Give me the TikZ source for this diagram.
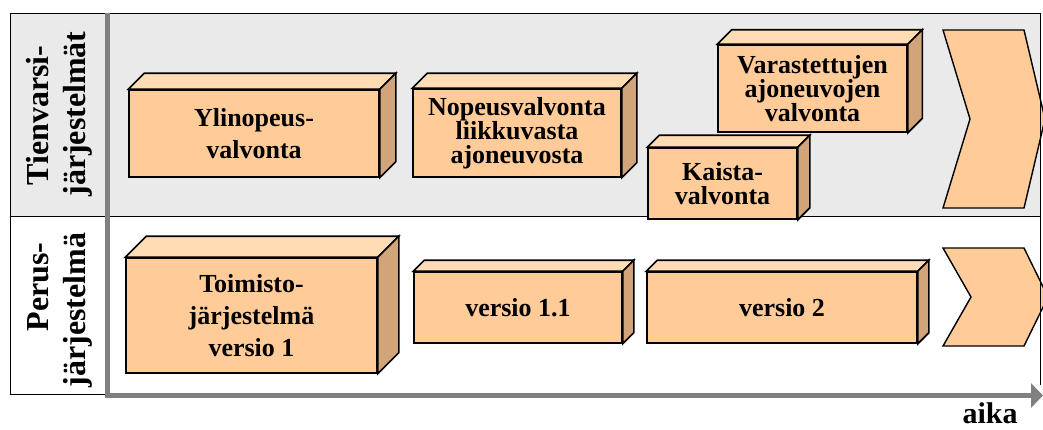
\documentclass[tikz,border=0pt]{standalone}
\usepackage{fontspec}
\setmainfont{Liberation Serif}
\usetikzlibrary{calc,arrows.meta}

\definecolor{bandgray}{HTML}{EAEAEA}
\definecolor{boxfront}{HTML}{FFCC99}
\definecolor{boxtop}{HTML}{FFDCB4}
\definecolor{boxside}{HTML}{D2A47A}
\definecolor{axisgray}{HTML}{808080}

\tikzset{
  frontface/.style={draw=black, line width=1.6pt, fill=boxfront, inner sep=0pt,
    align=center, font=\bfseries\fontsize{26}{24}\selectfont},
  loose/.style={font=\bfseries\fontsize{26}{32}\selectfont},
  faceedge/.style={draw=black, line width=1.6pt},
  rowlabel/.style={rotate=90, anchor=base, inner sep=0pt,
    font=\bfseries\fontsize{32}{37}\selectfont},
  frameline/.style={draw=black, line width=0.8pt},
  chevron/.style={draw=black, line width=1.4pt, fill=boxfront},
  timeaxis/.style={draw=axisgray, line width=5.5pt,
    -{Triangle[length=12pt,width=24pt]}}
}

% top and right faces of a cuboid whose front face is node #1, depth #2
\newcommand\boxsides[2]{%
  \filldraw[faceedge, fill=boxtop] (#1.north west) -- ($(#1.north west)+(#2,-#2)$)
    -- ($(#1.north east)+(#2,-#2)$) -- (#1.north east) -- cycle;
  \filldraw[faceedge, fill=boxside] (#1.north east) -- ($(#1.north east)+(#2,-#2)$)
    -- ($(#1.south east)+(#2,-#2)$) -- (#1.south east) -- cycle;
}

\begin{document}
\begin{tikzpicture}[x=1pt, y=-1pt]
  \useasboundingbox (0,0) rectangle (1043,429);
  \clip (0,0) rectangle (1043,429);

  % upper band background
  \fill[bandgray] (10,13) rectangle (1040,216);

  % frame
  \coordinate (ftl) at (10,13);
  \coordinate (ftr) at (1040,13);
  \coordinate (fbr) at (1040,385);
  \coordinate (fml) at (10,216);
  \coordinate (fmr) at (1040,216);
  \coordinate (fbl) at (10,394);
  \coordinate (fbm) at (106,394);
  \draw[frameline] (ftl) -- (ftr);
  \draw[frameline] (fml) -- (fmr);
  \draw[frameline] (ftl) -- (fbl) -- (fbm);

  % row labels
  \node[rowlabel] (tien1) at (48,115.5) {Tienvarsi-};
  \node[rowlabel] (tien2) at (85,114) {järjestelmät};
  \node[rowlabel] (perus1) at (48,287) {Perus-};
  \node[rowlabel] (perus2) at (85,310) {järjestelmä};

  % roadside systems
  \node[frontface, loose, minimum width=250pt, minimum height=87pt] (ylinopeus)
    at (254,133.5) {Ylinopeus-\\valvonta};
  \boxsides{ylinopeus}{16}
  \node[frontface, minimum width=208pt, minimum height=88pt] (nopeus)
    at (517,133) {Nopeusvalvonta\\liikkuvasta\\ajoneuvosta};
  \boxsides{nopeus}{15}
  \node[frontface, minimum width=189pt, minimum height=87pt] (varastetut)
    at (812.5,88.5) {Varastettujen\\ajoneuvojen\\valvonta};
  \boxsides{varastetut}{14.5}
  \node[frontface, minimum width=149pt, minimum height=71pt] (kaista)
    at (722.5,183.5) {Kaista-\\valvonta};
  \boxsides{kaista}{12}

  % basic system
  \node[frontface, loose, minimum width=251pt, minimum height=115pt] (toimisto)
    at (251.5,315.5) {Toimisto-\\järjestelmä\\versio 1};
  \boxsides{toimisto}{21}
  \node[frontface, minimum width=208pt, minimum height=71pt] (versio11)
    at (518,307.5) {versio 1.1};
  \boxsides{versio11}{11}
  \node[frontface, minimum width=270pt, minimum height=71pt] (versio2)
    at (782,307.5) {versio 2};
  \boxsides{versio2}{11}

  % continuation chevrons
  \draw[chevron] (943,30) -- (1024,30) -- (1045,119) -- (1024,208)
    -- (943,208) -- (970,119) -- cycle;
  \draw[chevron] (943,248) -- (1024,248) -- (1048,297) -- (1024,346)
    -- (943,346) -- (971,297) -- cycle;

  % right frame edge
  \draw[frameline] (ftr) -- (fbr);

  % time axis
  \coordinate (axtop) at (107.5,13);
  \coordinate (axcorner) at (107.5,395.5);
  \coordinate (axend) at (1043,395.5);
  \draw[timeaxis] (axtop) -- (axcorner) -- (axend);
  \node[anchor=base, inner sep=0pt, font=\bfseries\fontsize{30}{36}\selectfont]
    (aika) at (990,423) {aika};
\end{tikzpicture}
\end{document}
